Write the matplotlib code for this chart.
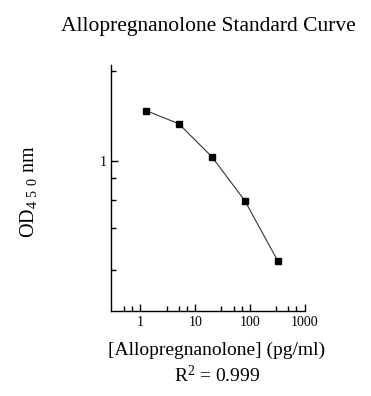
import matplotlib
matplotlib.use("Agg")
import matplotlib.pyplot as plt
from matplotlib.ticker import FixedLocator, FixedFormatter, NullFormatter

plt.rcParams['font.family'] = ['Liberation Serif', 'DejaVu Serif']
plt.rcParams['mathtext.fontset'] = 'custom'
plt.rcParams['mathtext.rm'] = 'Liberation Serif'

# data
conc = [1.25, 5, 20, 80, 320]
od = [2.47, 1.95, 1.08, 0.49, 0.166]

x_major = [1, 10, 100, 1000]
x_major_labels = ['1', '10', '100', '1000']
x_minor = [0.5, 0.7, 3, 5, 7, 30, 50, 70, 300, 500, 700]
y_major = [1]
y_major_labels = ['1']
y_minor = [5, 0.73, 0.5, 0.3, 0.14]

fig = plt.figure(figsize=(3.71, 3.96), dpi=100)
ax = fig.add_axes([0.299, 0.2154, 0.523, 0.6206])
ax.plot(conc, od, color='#333333', lw=0.8, marker='s', ms=4.5,
        mfc='black', mec='black')
ax.set_xscale('log')
ax.set_yscale('log')
ax.set_xlim(0.29, 1000)
ax.set_ylim(0.068, 5.6)

ax.xaxis.set_major_locator(FixedLocator(x_major))
ax.xaxis.set_major_formatter(FixedFormatter(x_major_labels))
ax.xaxis.set_minor_locator(FixedLocator(x_minor))
ax.xaxis.set_minor_formatter(NullFormatter())
ax.yaxis.set_major_locator(FixedLocator(y_major))
ax.yaxis.set_major_formatter(FixedFormatter(y_major_labels))
ax.yaxis.set_minor_locator(FixedLocator(y_minor))
ax.yaxis.set_minor_formatter(NullFormatter())

for s in ['top', 'right']:
    ax.spines[s].set_visible(False)
for s in ['left', 'bottom']:
    ax.spines[s].set_linewidth(1.0)
ax.tick_params(which='major', direction='in', length=5, width=1, labelsize=10)
ax.tick_params(which='minor', direction='in', length=3.5, width=1)
ax.tick_params(axis='x', which='major', pad=4)
ax.tick_params(axis='y', which='major', pad=3)

fig.text(0.562, 0.932, 'Allopregnanolone Standard Curve', ha='center', va='center', fontsize=15.5)
fig.text(0.585, 0.116, '[Allopregnanolone] (pg/ml)', ha='center', va='center', fontsize=14)
fig.text(0.585, 0.053, '$\\mathregular{R^2}$ = 0.999', ha='center', va='center', fontsize=14)
fig.text(0.076, 0.515, 'OD$\\mathregular{_{4\\ 5\\ 0}}$ nm', ha='center', va='center',
         rotation=90, fontsize=14.5)

fig.savefig('out.png', dpi=100)
